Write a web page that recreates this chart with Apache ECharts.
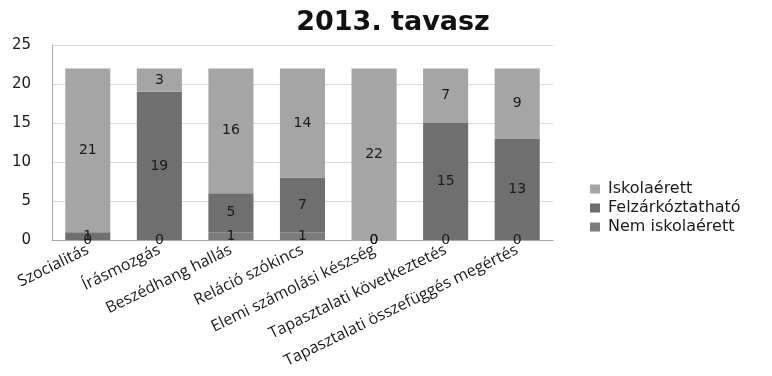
<!DOCTYPE html>
<html>
<head>
<meta charset="utf-8">
<script src="https://cdn.jsdelivr.net/npm/echarts@6/dist/echarts.min.js"></script>
<style>
  html, body { margin: 0; padding: 0; background: #fff; }
  #chart { width: 772px; height: 376px; }
</style>
</head>
<body>
<div id="chart"></div>
<script>
const FONT = "'DejaVu Sans', Verdana, sans-serif"
const LABEL_FONT = "'Open Sans', 'Liberation Sans', sans-serif"

const categories = [
  'Szocialitás', 'Írásmozgás', 'Beszédhang hallás', 'Reláció szókincs',
  'Elemi számolási készség', 'Tapasztalati következtetés', 'Tapasztalati összefüggés megértés',
]
const nemIskolaerett = [0, 0, 1, 1, 0, 0, 0]
const felzarkoztathato = [1, 19, 5, 7, 0, 15, 13]
const iskolaerett = [21, 3, 16, 14, 22, 7, 9]
const yTicks = [0, 5, 10, 15, 20, 25]

const COLORS = {
  nem: '#7b7b7b',
  felz: '#6f6f6f',
  isk: '#a5a5a5',
  grid: '#d9d9d9',
  axis: '#a6a6a6',
  text: '#1a1a1a',
}

const chart = echarts.init(document.getElementById('chart'))

function seriesOf(name, data, color) {
  return {
    name,
    type: 'bar',
    stack: 'total',
    data,
    barCategoryGap: '37%',
    itemStyle: { color },
    label: {
      show: true,
      position: 'inside',
      fontFamily: FONT,
      fontSize: 14,
      color: COLORS.text,
    },
  }
}

chart.setOption({
  animation: false,
  title: {
    text: '2013. tavasz',
    left: 388,
    textAlign: 'center',
    top: 4,
    textStyle: { fontFamily: FONT, fontSize: 27, fontWeight: 'bold', color: '#111' },
  },
  grid: { left: 52, right: 219, top: 45, bottom: 136, containLabel: false },
  legend: {
    orient: 'vertical',
    left: 585,
    top: 176,
    itemWidth: 10,
    itemHeight: 9,
    itemGap: 3,
    icon: 'rect',
    data: ['Iskolaérett', 'Felzárkóztatható', 'Nem iskolaérett'],
    textStyle: { fontFamily: FONT, fontSize: 16, color: COLORS.text, padding: [0, 0, 0, 3] },
  },
  xAxis: {
    type: 'category',
    data: categories,
    axisTick: { show: false },
    axisLine: { lineStyle: { color: COLORS.axis } },
    axisLabel: {
      rotate: 26,
      interval: 0,
      margin: 9,
      fontFamily: LABEL_FONT,
      fontSize: 16,
      color: COLORS.text,
    },
  },
  yAxis: {
    type: 'value',
    min: 0,
    max: 25,
    interval: 5,
    axisLine: { show: true, lineStyle: { color: COLORS.axis } },
    axisTick: { show: false },
    splitLine: { lineStyle: { color: COLORS.grid } },
    axisLabel: {
      fontFamily: FONT,
      fontSize: 15,
      color: COLORS.text,
      margin: 21,
      customValues: yTicks,
    },
  },
  series: [
    seriesOf('Nem iskolaérett', nemIskolaerett, COLORS.nem),
    seriesOf('Felzárkóztatható', felzarkoztathato, COLORS.felz),
    seriesOf('Iskolaérett', iskolaerett, COLORS.isk),
  ],
})
</script>
</body>
</html>
